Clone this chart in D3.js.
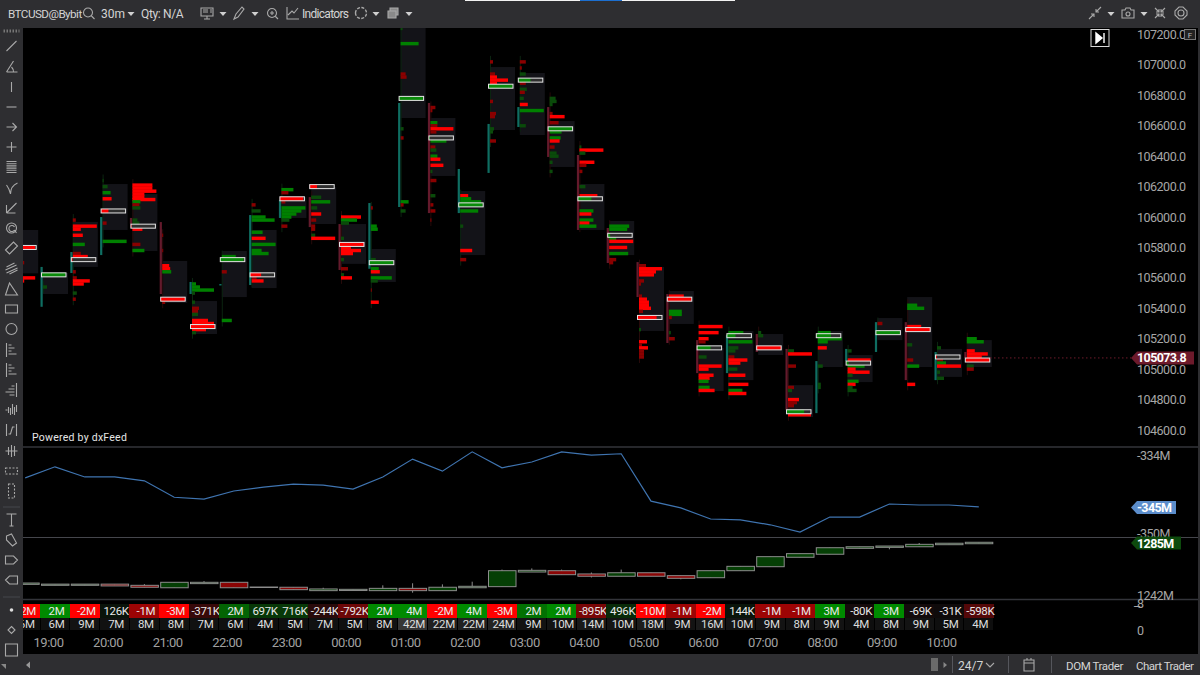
<!DOCTYPE html>
<html><head><meta charset="utf-8">
<style>html,body{margin:0;padding:0;background:#000;overflow:hidden}svg{display:block}text{font-family:Roboto,"Noto Sans",sans-serif}</style>
<script src="https://cdn.jsdelivr.net/npm/d3@7"></script></head><body>
<script>
const priceTicks=[104600,104800,105000,105200,105400,105600,105800,106000,106200,106400,106600,106800,107000,107200];
const lastPrice=105073.8;
const hourLabels=["19:00","20:00","21:00","22:00","23:00","00:00","01:00","02:00","03:00","04:00","05:00","06:00","07:00","08:00","09:00","10:00"];

const candleOpen=[105910,105410,105632,105750,105994,105967,105494,105550,105553,105994,106131,105954,105660,106066,106750,106026,106290,106592,106723,106408,105928,105704,105494,105191,104974,105231,105133,104711,105053,105113,105309,104928,105113];
const candleClose=[105720,105672,105770,106000,105955,105494,105573,105560,106013,106112,105934,105652,106092,106750,106026,106316,106612,106723,106395,105915,105698,105474,105172,104974,105224,105113,104731,105053,105133,105309,104928,105113,105074];
const panelHigh=[105915,105632,105968,106217,106151,105711,105448,105777,105915,106131,106197,105954,105790,107243,106651,106171,106986,106947,106631,106217,105974,105672,105514,105139,105251,105231,104895,105251,105093,105336,105474,105133,105191];
const panelLow=[105630,105494,105672,105915,105777,105435,105231,105474,105533,105994,105954,105692,105573,106651,106270,105750,106572,106539,106329,105915,105750,105251,105297,104856,104928,105093,104685,105014,104915,105191,105014,104949,105014];
const pocPrice=[105800,105620,105720,106040,105940,105460,105280,105720,105620,106120,106200,105820,105700,106780,106520,106080,106860,106900,106580,106120,105880,105340,105460,105140,105220,105140,104720,105220,105040,105240,105260,105080,105060];
const pocKind=["R","G","R","R","R","R","R","G","R","R","R","R","G","G","G","G","G","G","G","G","G","R","R","G","G","R","G","G","G","G","R","R","R"];
const pocShare=[.95,.98,.05,.3,.03,1,1,.95,.45,.95,.3,1,.98,.97,.03,.98,.98,.5,.98,.55,.1,.78,1,.55,.35,1,.72,.6,.1,.98,1,.05,1];

const profiles=[
[[105700,11,"D"],[105600,22,"R"],[105580,11,"R"]],
[[105540,4,"E"]],
[[105980,3,"D"],[105940,24,"R"],[105920,8,"R"],[105880,10,"R"],[105820,12,"G"],[105760,8,"D"],[105740,15,"R"],[105640,3,"D"],[105600,4,"D"],[105580,17,"R"],[105560,11,"R"],[105500,4,"E"],[105460,3,"D"]],
[[106240,1,"E"],[106200,5,"E"],[106160,8,"G"],[106120,9,"R"],[105960,4,"D"],[105840,24,"G"]],
[[106210,20,"R"],[106190,20,"R"],[106170,24,"R"],[106150,12,"R"],[106130,12,"R"],[106115,23,"R"],[106100,8,"G"],[106080,7,"D"],[106060,8,"E"],[105980,5,"E"],[105960,7,"E"],[105920,10,"R"],[105820,8,"D"],[105780,12,"G"]],
[[105880,1,"D"],[105780,1,"D"],[105680,7,"R"],[105660,8,"R"],[105640,9,"G"],[105440,3,"D"]],
[[105560,4,"G"],[105540,8,"G"],[105520,22,"G"],[105500,3,"E"],[105440,3,"E"],[105400,7,"D"],[105380,6,"D"],[105360,6,"E"],[105320,16,"R"],[105300,22,"R"],[105260,14,"R"],[105240,4,"E"]],
[[105740,14,"G"],[105640,5,"D"],[105320,10,"G"]],
[[106080,4,"D"],[106040,9,"E"],[106000,14,"G"],[105980,23,"G"],[105900,11,"G"],[105860,14,"R"],[105820,24,"G"],[105780,10,"G"],[105760,17,"G"],[105600,5,"D"],[105580,12,"R"]],
[[106180,12,"G"],[106160,7,"D"],[106100,4,"D"],[106060,24,"G"],[106040,20,"G"],[106020,15,"G"],[106000,10,"G"],[105980,8,"E"],[105940,6,"D"]],
[[106130,10,"E"],[106100,19,"G"],[106060,6,"E"],[106020,10,"R"],[105980,5,"D"],[105940,4,"D"],[105920,4,"D"],[105880,4,"E"],[105860,24,"R"]],
[[106000,20,"R"],[105980,16,"G"],[105960,8,"E"],[105860,3,"E"],[105800,10,"R"],[105780,20,"R"],[105760,12,"R"],[105720,3,"E"],[105660,7,"D"],[105620,3,"E"],[105600,11,"R"]],
[[106060,2,"D"],[105940,6,"G"],[105920,7,"G"],[105720,5,"E"],[105660,8,"G"],[105640,9,"R"],[105600,21,"G"],[105580,7,"E"],[105520,1,"D"],[105440,8,"R"]],
[[107240,2,"E"],[107140,18,"G"],[106940,5,"D"],[106920,6,"D"],[106580,3,"E"],[106520,3,"D"],[106100,8,"G"],[106080,3,"D"],[106040,5,"E"]],
[[106720,5,"D"],[106700,2,"D"],[106620,7,"G"],[106600,7,"D"],[106580,23,"R"],[106560,6,"D"],[106500,16,"G"],[106460,5,"D"],[106440,6,"E"],[106400,7,"G"],[106380,10,"R"],[106340,13,"R"],[106300,2,"E"],[106240,6,"D"],[106140,5,"E"],[106080,3,"D"],[106040,5,"D"],[105980,1,"D"]],
[[106140,8,"R"],[106120,11,"G"],[106100,21,"G"],[106040,18,"G"],[105940,3,"E"],[105780,12,"R"],[105720,6,"D"]],
[[107020,3,"D"],[106940,5,"D"],[106920,7,"R"],[106900,18,"R"],[106880,7,"R"],[106760,3,"D"],[106680,6,"D"],[106660,5,"D"],[106580,4,"E"],[106560,3,"E"],[106500,6,"D"]],
[[107020,6,"D"],[106980,2,"D"],[106940,6,"E"],[106880,6,"D"],[106840,7,"E"],[106820,5,"D"],[106780,4,"E"],[106740,8,"R"],[106700,24,"G"],[106600,6,"E"]],
[[106780,6,"E"],[106760,7,"E"],[106740,3,"E"],[106680,3,"D"],[106660,15,"R"],[106620,9,"D"],[106560,12,"G"],[106520,11,"G"],[106500,10,"R"],[106460,5,"D"],[106420,7,"E"],[106400,9,"E"],[106360,3,"E"],[106300,3,"E"]],
[[106460,2,"E"],[106440,24,"R"],[106420,6,"E"],[106360,15,"R"],[106340,7,"D"],[106300,3,"D"],[106200,6,"E"],[106140,18,"R"],[106040,14,"G"],[106020,12,"R"],[105980,14,"G"],[105960,10,"R"],[105940,17,"G"]],
[[105940,20,"G"],[105920,18,"G"],[105860,7,"G"],[105840,24,"R"],[105800,18,"R"],[105760,19,"G"],[105720,7,"D"],[105700,4,"D"]],
[[105680,7,"D"],[105660,23,"R"],[105640,17,"R"],[105620,15,"R"],[105580,5,"D"],[105560,2,"D"],[105480,3,"D"],[105460,8,"R"],[105440,10,"R"],[105420,10,"R"],[105400,12,"R"],[105380,4,"D"],[105260,2,"E"],[105180,8,"R"],[105160,3,"D"],[105140,9,"R"],[105120,5,"D"],[105100,5,"D"],[105080,5,"D"]],
[[105480,15,"R"],[105380,13,"G"],[105360,13,"G"],[105340,3,"D"],[105240,2,"E"],[105200,6,"D"]],
[[105280,24,"R"],[105240,20,"R"],[105200,10,"R"],[105180,7,"D"],[105080,8,"E"],[105020,23,"R"],[105000,10,"R"],[104960,15,"R"],[104940,11,"R"],[104920,10,"G"],[104880,11,"G"],[104860,16,"R"]],
[[105240,15,"G"],[105180,24,"G"],[105140,10,"E"],[105120,7,"E"],[105080,6,"D"],[105060,19,"R"],[105040,12,"R"],[105000,9,"E"],[104960,17,"R"],[104900,20,"R"],[104860,14,"G"],[104840,18,"R"]],
[[105240,3,"E"],[105220,5,"E"]],
[[105120,6,"E"],[105100,24,"R"],[105020,8,"D"],[104880,6,"D"],[104860,4,"E"],[104800,11,"R"],[104780,9,"D"],[104760,6,"D"],[104700,23,"R"]],
[[105240,13,"G"],[105200,24,"G"],[105180,10,"G"],[105140,9,"R"],[105020,5,"E"],[104900,3,"E"],[104880,3,"E"]],
[[105120,4,"E"],[105060,23,"R"],[105020,17,"G"],[105000,8,"R"],[104980,22,"R"],[104960,5,"E"],[104920,11,"G"],[104900,8,"R"],[104880,5,"E"],[104860,9,"E"]],
[[105300,5,"D"]],
[[105420,10,"G"],[105400,17,"G"],[105280,14,"R"],[105160,5,"E"],[105060,6,"D"],[105020,12,"G"],[104900,8,"R"]],
[[105140,4,"E"],[105060,6,"D"],[105040,9,"G"],[105020,24,"R"],[104980,3,"E"],[104940,7,"E"]],
[[105200,10,"G"],[105180,17,"G"],[105120,8,"R"],[105100,21,"R"],[105080,15,"R"],[105020,7,"E"],[105000,7,"D"]]
];

const cumDelta=[-338.6,-336.3,-338.4,-338.4,-339.2,-342.6,-343.0,-341.3,-340.5,-339.9,-340.1,-340.9,-338.4,-334.7,-337.2,-333.2,-336.5,-335.3,-333.2,-333.9,-333.6,-343.4,-344.8,-347.1,-347.3,-348.3,-349.8,-346.7,-346.7,-344.0,-344.2,-344.2,-344.6];
const cumDeltaTicks=[-334,-350];
const cumDeltaLast=-345;

const volOpen=[1250.8,1250,1250,1251,1250,1248,1251.4,1252.5,1248.2,1248.4,1245.6,1245.7,1245.6,1247.5,1245.6,1248,1248.9,1261,1262.1,1259.4,1257.5,1260.4,1258,1256.3,1262.1,1265.4,1273.2,1275.7,1280.6,1281.4,1281.9,1283.6,1284.4];
const volClose=[1251.9,1251,1251,1249.5,1248.4,1252.5,1252.5,1248,1248.6,1246.4,1247,1246.7,1247.5,1245.6,1248.4,1249.2,1262.1,1262.4,1258.8,1257.5,1260.4,1257.5,1255.8,1262.1,1265.7,1273.7,1276.2,1281.1,1281.9,1282.5,1283.9,1284.8,1285.6];
const volHigh=[1251.9,1251,1251,1251,1251,1252.5,1253.5,1252.5,1248.6,1248.4,1248,1246.7,1250,1251.7,1250.8,1253,1263,1264,1263,1260.6,1263,1260.4,1258,1262.1,1265.7,1273.7,1276.2,1281.1,1281.9,1282.5,1285,1284.8,1285.6];
const volLow=[1250.8,1250,1250,1249.5,1248.4,1248,1251.4,1248,1248.2,1246.4,1245.6,1245.7,1245.6,1243.9,1245.6,1248,1248.9,1261,1258.8,1256.5,1257.5,1257.5,1255,1256.3,1262.1,1265.4,1273.2,1275.7,1280.6,1279.8,1281.9,1283.6,1284.4];
const volTicks=[1285,1242];
const volLast=1285;

const deltaLabels=["-2M","2M","-2M","126K","-1M","-3M","-371K","2M","697K","716K","-244K","-792K","2M","4M","-2M","4M","-3M","2M","2M","-895K","496K","-10M","-1M","-2M","144K","-1M","-1M","3M","-80K","3M","-69K","-31K","-598K"];
const deltaValues=[-2.1,2.3,-2.3,.126,-1.2,-3,-.371,1.4,.697,.716,-.244,-.792,2.2,4,-2.2,4,-3,1.6,2.4,-.895,.496,-10,-1.2,-2.3,.144,-1.2,-1.2,3,-.08,3,-.069,-.031,-.598];
const volumeValues=[6,6,9,7,8,8,7,6,4,5,7,5,8,42,22,22,24,9,10,14,10,18,9,16,10,9,8,9,4,8,9,5,4];

const W=1200,H=675,paneL=23,paneR=1198;
const svg=d3.select("body").append("svg").attr("width",W).attr("height",H);
svg.append("rect").attr("width",W).attr("height",H).attr("fill","#000");
const defs=svg.append("defs");
defs.append("clipPath").attr("id","main").append("rect").attr("x",paneL).attr("y",28).attr("width",paneR-paneL).attr("height",419);
defs.append("clipPath").attr("id","lower").append("rect").attr("x",paneL).attr("y",447).attr("width",paneR-paneL).attr("height",207);

const n=candleOpen.length;
const xBar=d3.scaleLinear().domain([0,n-1]).range([11.2,964.8]);
const xHour=d3.scaleLinear().domain([0,15]).range([48,941]);
const yPrice=d3.scaleLinear().domain([104600,107200]).range([430,34.5]);
const yDelta=d3.scaleLinear().domain([-334,-350]).range([455.7,533]);
const yVol=d3.scaleLinear().domain([1242,1285]).range([595,543]);
const wVol=d3.scaleLinear().domain([0,25]).range([0,25]);
const rowColor={R:"#ff0000",D:"#8a0000",G:"#008000",E:"#0a4a0a"};
const deltaColor=d3.scaleLinear().domain([-2,0,2]).range(["#ff0000","#0b0b0b","#008a00"]).clamp(true);
const volumeColor=d3.scaleLinear().domain([4,42]).range(["#0e0e0e","#363636"]).clamp(true);

/* footprint pane */
const main=svg.append("g").attr("clip-path","url(#main)");
const bars=main.selectAll("g.bar").data(d3.range(n)).join("g").attr("class","bar");
bars.append("rect").attr("x",i=>xBar(i)+2).attr("width",25)
  .attr("y",i=>yPrice(panelHigh[i])).attr("height",i=>yPrice(panelLow[i])-yPrice(panelHigh[i])).attr("fill","#131318");
bars.append("line").attr("x1",i=>xBar(i)+2.5).attr("x2",i=>xBar(i)+2.5)
  .attr("y1",i=>yPrice(d3.max(profiles[i],r=>r[0]))-6).attr("y2",i=>yPrice(d3.min(profiles[i],r=>r[0]))+6)
  .attr("stroke",i=>candleClose[i]>candleOpen[i]?"#0b2410":"#260a0a").attr("stroke-width",1);
bars.selectAll("rect.row").data(i=>profiles[i].map(r=>({i,p:r[0],v:r[1],k:r[2]}))).join("rect").attr("class","row")
  .attr("x",d=>xBar(d.i)+2).attr("width",d=>wVol(d.v))
  .attr("y",d=>yPrice(d.p+10)-.2).attr("height",d=>yPrice(d.p-10)-yPrice(d.p+10)+.4).attr("fill",d=>rowColor[d.k]);
bars.append("rect").attr("x",i=>xBar(i)-.5).attr("width",2.2)
  .attr("y",i=>yPrice(Math.max(candleOpen[i],candleClose[i])))
  .attr("height",i=>Math.abs(yPrice(candleOpen[i])-yPrice(candleClose[i])))
  .attr("fill",i=>candleClose[i]>candleOpen[i]?"#0f6e62":"#641a2c");
bars.append("rect").attr("x",i=>xBar(i)+.5).attr("width",24.5)
  .attr("y",i=>yPrice(pocPrice[i])-2).attr("height",4).attr("fill","#2e2e2e");
bars.append("rect").attr("x",i=>xBar(i)+.5).attr("width",i=>24.5*pocShare[i])
  .attr("y",i=>yPrice(pocPrice[i])-2).attr("height",4).attr("fill",i=>pocKind[i]=="R"?"#ff0000":"#0a8a0a");
bars.append("rect").attr("x",i=>xBar(i)+.5).attr("width",24.5)
  .attr("y",i=>yPrice(pocPrice[i])-2).attr("height",4).attr("fill","none").attr("stroke","#e4e4e4").attr("stroke-width",1);

main.append("line").attr("x1",990).attr("x2",1131).attr("y1",yPrice(lastPrice)).attr("y2",yPrice(lastPrice))
  .attr("stroke","#6d1a2b").attr("stroke-dasharray","1.5 2.5");
svg.append("text").attr("x",32).attr("y",441).attr("fill","#e6e6e6").attr("font-size",10.5).attr("letter-spacing",.25).text("Powered by dxFeed");

/* pane separators */
[[447,"#33343a",1.6],[537.5,"#45464c",1],[599.5,"#33343a",1.6]].forEach(s=>{
 svg.append("line").attr("x1",paneL).attr("x2",paneR).attr("y1",s[0]).attr("y2",s[0]).attr("stroke",s[1]).attr("stroke-width",s[2]);});

/* cumulative delta */
const lower=svg.append("g").attr("clip-path","url(#lower)");
lower.append("path").datum(cumDelta).attr("fill","none").attr("stroke","#3f74b0").attr("stroke-width",1.2)
  .attr("d",d3.line().x((d,i)=>xBar(i)+14).y(d=>yDelta(d)));

/* cumulative volume candles */
const vc=lower.selectAll("g.vc").data(d3.range(n)).join("g").attr("class","vc");
vc.append("line").attr("x1",i=>xBar(i)+14).attr("x2",i=>xBar(i)+14)
  .attr("y1",i=>yVol(volHigh[i])).attr("y2",i=>yVol(volLow[i])).attr("stroke","#8c8c8c");
vc.append("rect").attr("x",i=>xBar(i)+.5).attr("width",27.5)
  .attr("y",i=>yVol(Math.max(volOpen[i],volClose[i])))
  .attr("height",i=>Math.abs(yVol(volOpen[i])-yVol(volClose[i])))
  .attr("fill",i=>volClose[i]>=volOpen[i]?"#053f05":"#8b0505").attr("stroke","#8c8c8c").attr("stroke-width",1);

/* footer cells */
const cells=svg.append("g").attr("clip-path","url(#lower)").selectAll("g").data(d3.range(n)).join("g");
cells.append("rect").attr("x",i=>xBar(i)-1).attr("width",29.8).attr("y",604).attr("height",13.5).attr("fill",i=>deltaColor(deltaValues[i])).attr("shape-rendering","crispEdges");
cells.append("rect").attr("x",i=>xBar(i)-.5).attr("width",28.8).attr("y",617.5).attr("height",12.5).attr("fill",i=>volumeColor(volumeValues[i])).attr("shape-rendering","crispEdges");
cells.append("text").attr("x",i=>xBar(i)+15.5).attr("y",614.5).attr("text-anchor","middle").attr("font-size",11.5).attr("letter-spacing",-.35).attr("fill","#e8e8e8").text(i=>deltaLabels[i]);
cells.append("text").attr("x",i=>xBar(i)+15.5).attr("y",628).attr("text-anchor","middle").attr("font-size",11.5).attr("letter-spacing",-.3).attr("fill","#dcdcdc").text(i=>volumeValues[i]+"M");

/* time axis */
const axH=svg.append("g").attr("transform","translate(0,640)").call(d3.axisBottom(xHour).tickValues(d3.range(hourLabels.length)).tickFormat(i=>hourLabels[i]).tickSize(0).tickPadding(0));
axH.select(".domain").remove();
axH.selectAll("text").attr("font-size",13).attr("letter-spacing",-.5).attr("fill","#a0a0a0").attr("font-family",'Roboto,sans-serif').attr("dy",".55em");

/* value axes */
function rightAxis(scale,ticks,fmt){
  const g=svg.append("g").attr("transform","translate(1137,0)").call(d3.axisRight(scale).tickValues(ticks).tickFormat(fmt).tickSize(0).tickPadding(0));
  g.select(".domain").remove();
  g.selectAll("text").attr("font-size",12.5).attr("letter-spacing",-.5).attr("fill","#a6a6a6").attr("font-family",'Roboto,sans-serif');
}
rightAxis(yPrice,priceTicks,d3.format(".1f"));
rightAxis(yDelta,cumDeltaTicks,d=>d+"M");
rightAxis(yVol,volTicks,d=>d+"M");
[["–",1133,611],["8",1137,608],["0",1137,635]].forEach(t=>svg.append("text").attr("x",t[1]).attr("y",t[2]).attr("font-size",12.5).attr("fill","#a6a6a6").text(t[0]));

/* price tags */
function tag(y,right,fill,text,tx,fs){
  svg.append("path").attr("d",`M1131 ${y}L1137 ${y-6.5}H${right}V${y+6.5}H1137Z`).attr("fill",fill);
  svg.append("text").attr("x",tx).attr("y",y+4.5).attr("font-size",fs).attr("font-weight",700).attr("letter-spacing",-.6).attr("fill","#fff").text(text);
}
tag(yPrice(lastPrice),1194,"#6d1a2b",d3.format(".1f")(lastPrice),1137,12.5);
tag(507.5,1176,"#5b8dcb",cumDeltaLast+"M",1137,12.5);
tag(yVol(volLast),1181,"#0d4a0d",volLast+"M",1137,12.5);

/* chrome bars */
const chrome="#2e2e31";
svg.append("rect").attr("width",W).attr("height",28).attr("fill",chrome);
svg.append("rect").attr("y",28).attr("width",paneL).attr("height",H-28).attr("fill",chrome);
svg.append("rect").attr("x",paneL).attr("y",654).attr("width",W-paneL).attr("height",21).attr("fill",chrome);
svg.append("rect").attr("x",1198).attr("y",28).attr("width",2).attr("height",626).attr("fill",chrome);
[[465,115,"#f2f2f2"],[580,42,"#1c6fd0"],[622,113,"#f2f2f2"]].forEach(s=>svg.append("rect").attr("x",s[0]).attr("width",s[1]).attr("height",1).attr("fill",s[2]));

const ic="#a9a9a9";
function icon(x,y,d,opt={}){
  return svg.append("path").attr("transform",`translate(${x},${y})`).attr("d",d).attr("fill",opt.fill||"none").attr("stroke",opt.stroke||ic)
    .attr("stroke-width",opt.w||1.1).attr("stroke-dasharray",opt.dash||null);
}
function label(x,y,t,fs=12,anchor="start",col="#d4d4d4",ls=0){
  svg.append("text").attr("x",x).attr("y",y).attr("font-size",fs).attr("text-anchor",anchor).attr("letter-spacing",ls).attr("fill",col).text(t);
}
label(8,18,"BTCUSD@Bybit",11.7,"start","#d4d4d4",-.55);
label(101,18,"30m");label(141,18,"Qty: N/A",12,"start","#d4d4d4",-.35);label(302,18,"Indicators",12,"start","#d4d4d4",-.7);
const circle=r=>`M${-r} 0A${r} ${r} 0 1 1 ${r} 0A${r} ${r} 0 1 1 ${-r} 0`;
icon(88,12.5,circle(4.5)+"M3.5 3.5L6.5 6.5");
[131,223,255,376,409,1111,1144].forEach(x=>icon(x,14,"M-3.5 -2H3.5L0 2Z",{fill:"#d0d0d0",stroke:"none"}));
icon(207,13,"M-6 -5H6V3H-6ZM-3 6H3M0 3V6M-4 -3H1M-4 -1H1M3 -3H5M3 -1H5");
icon(239,13,"M-5 6L-3 1L3 -6L5 -4L-1 4Z");
icon(272,13,circle(4.5)+"M3.5 3.5L6 6M-2 0H2M0 -2V2");
icon(293,13,"M-6 -6V6H6M-5 2L-1 -2L1 0L5 -5");
icon(361,13,circle(5.5),{dash:"3 1.4",w:1.4});
icon(393,13,"M-5 -2H3V5H-5ZM-3 -2V-5H5V2H3",{fill:"#8a8a8a"});
icon(1095,13,"M-6 6L-1 1M-4 1H-1V4M6 -6L1 -1M4 -1H1V-4");
icon(1128,13,"M-6 -3H-3L-2 -5H2L3 -3H6V5H-6Z"+"M-2 1A2 2 0 1 0 2 1A2 2 0 1 0 -2 1");
icon(1160,13,"M-5 -5L-1 -1M-1 -4V-1H-4M5 -5L1 -1M1 -4V-1H4M-5 5L-1 1M-1 4V1H-4M5 5L1 1M1 4V1H4");
icon(1181,13,circle(3)+"M-2 -6H2L6 -2V2L2 6H-2L-6 2V-2Z");
/* end-of-chart button and F */
svg.append("rect").attr("x",1091).attr("y",29.5).attr("width",18).attr("height",17).attr("fill","#000").attr("stroke","#d8d8d8");
icon(1100,38,"M-4 -5L2 0L-4 5ZM4 -5V5",{fill:"#fff",stroke:"#fff",w:1.4});
svg.append("rect").attr("x",1184.5).attr("y",29.5).attr("width",11).attr("height",10).attr("fill","#222").attr("stroke","#777");
label(1190,38,"F",8,"middle","#bbb");

const toolIcons=[
[46,"M-5 5L5 -5"],[67,"M-5 5H6M-5 5L2 -6M0 0Q2 2 2 5"],[87,"M0 -5V5"],[107,"M-5 0H5"],[127,"M-5 0H5M1 -4L5 0L1 4"],[147,"M-5 0H5M0 -5V5"],
[167,"M-5 -5.5H5M-5 -3.3H5M-5 -1.1H5M-5 1.1H5M-5 3.3H5M-5 5.5H5"],[188,"M-5 -3Q-2 1 -1 6M-1 6Q-1 -2 6 -5"],[208,"M-5 5L5 -5M-5 5V-3M-5 5H4"],
[228,circle(5)+"M3 2A3 3 0 1 1 3 -1M3 2L5 5"],[248,"M-6 2L2 -6L6 -2L-2 6Z"],[268,"M-5 -1L3 -5M-6 2L5 -3M-5 5L6 0M-2 6L6 2"],
[289,"M-6 6L-2 -6L6 6Z"],[309,"M-6 -4H6V4H-6Z"],[329,circle(5.5)],[350,"M-5 -7V7M-3 -5H0M-3 -2H3M-3 1H0M-3 4H5"],[370,"M-5 -7V7M-3 -5H0M-3 -2H3M-3 1H0M-3 4H5"],
[390,"M5 -7V7M3 -4H0M3 -1H-3M3 2H-6M3 5H-2"],[410,"M-6 0H-4M-3 -3V3M-1 -2V5M1 -6V4M3 -3V5M5 -5V2"],[430,"M-5 -6V6M5 -6V6M-3 4H-1L1 -3H3"],
[451,"M-6 0H6M-3 -4V4M0 -6V6M3 -5V5"]];
toolIcons.forEach(t=>icon(11.5,t[0],t[1]));
icon(11.5,471,"M-6 -3H6V3H-6Z",{dash:"2 1.5"});
icon(11.5,491,"M-3 -7H3V7H-3Z",{dash:"2 1.5"});
icon(11.5,31,"M-8 0H8",{dash:"1.5 1.5",w:3,stroke:"#777"});
[[520,"M-5 -6H5M0 -6V6M-2 6H2"],[540,"M-5 -4L0 -6L5 3L1 6L-5 0Z"],[560,"M-6 -4H2L6 0L2 4H-6Z"],[580,"M6 -4H-2L-6 0L-2 4H6Z"],[630,"M0 -3.5L3.5 0L0 3.5L-3.5 0Z"],[650,"M-6 -6H6V6H-6Z"]].forEach(t=>icon(11.5,t[0],t[1]));
icon(11.5,610,circle(1.8),{fill:"#ddd",stroke:"none"});
[507,597].forEach(y=>svg.append("line").attr("x1",3).attr("x2",20).attr("y1",y).attr("y2",y).attr("stroke","#45464c"));
icon(3,667,"M-2 -3H3V2Z",{fill:"#888",stroke:"none"});
icon(28,665,"M2 -3.5L-2 0L2 3.5Z",{fill:"#999",stroke:"none"});
svg.append("rect").attr("x",931).attr("y",658).attr("width",7).attr("height",13).attr("fill","#6a6a6a");
icon(945,665,"M-1.5 -3L2 0L-1.5 3Z",{fill:"#888",stroke:"none"});
[952.5,1008.5,1051.5].forEach(x=>svg.append("line").attr("x1",x).attr("x2",x).attr("y1",656).attr("y2",673).attr("stroke","#55565c"));
label(958,670,"24/7",12);
icon(990,665,"M-4 -2L0 2L4 -2");
icon(1029,665,"M-5 -5H5V6H-5ZM-5 -2H5M-2 -7V-5M2 -7V-5");
label(1066,670,"DOM Trader",11.5,"start","#d4d4d4",-.4);label(1136,670,"Chart Trader",11.5,"start","#d4d4d4",-.5);
</script></body></html>
